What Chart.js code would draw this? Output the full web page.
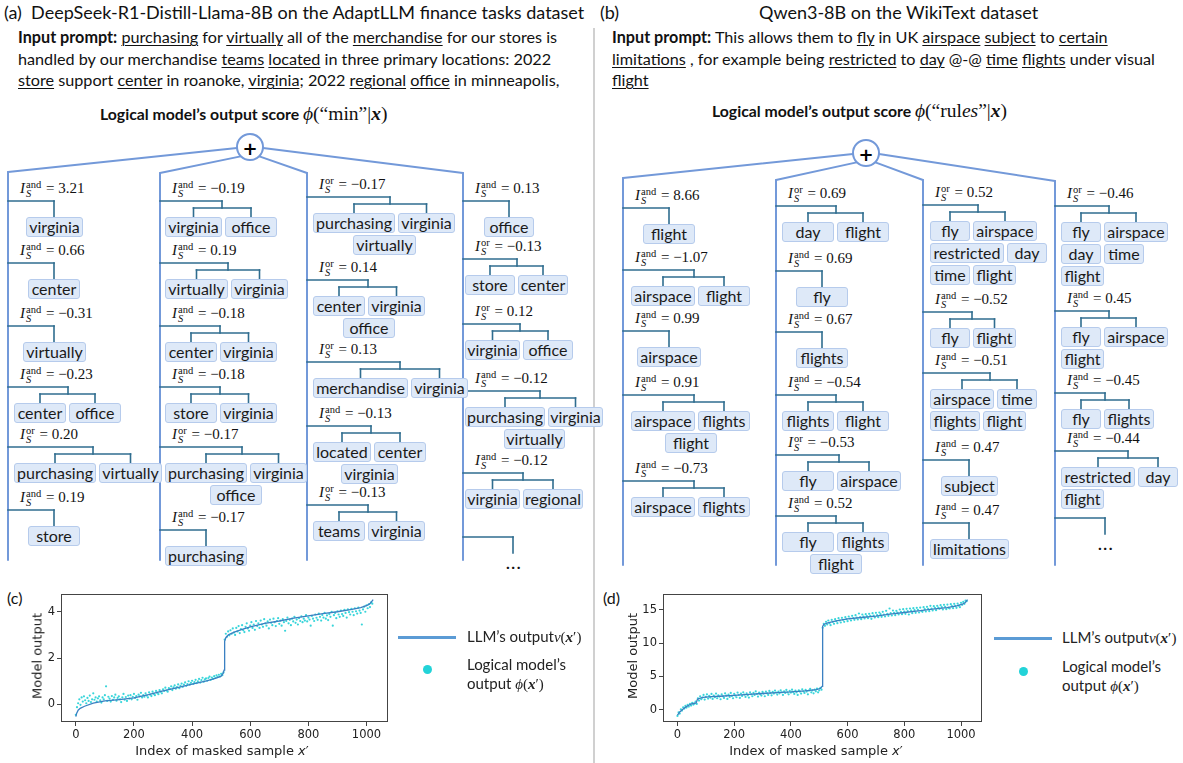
<!DOCTYPE html>
<html><head><meta charset="utf-8">
<script src="https://cdn.jsdelivr.net/npm/chart.js@4.4.1/dist/chart.umd.min.js"></script>
<style>
html,body{margin:0;padding:0;background:#fff;}
#fig{position:relative;width:1183px;height:763px;overflow:hidden;font-family:Lato,'Open Sans',sans-serif;color:#111;}
.abs{position:absolute;white-space:nowrap;}
.title{font-size:18px;line-height:22px;top:1px;}
.prompt{font-size:16.2px;line-height:21.5px;top:26px;}
.prompt u{text-decoration-thickness:1.4px;text-underline-offset:2px;}
.score{font-weight:bold;font-size:15.8px;line-height:20px;}
.score .m{font-size:19.5px;}
.m{font-family:'Liberation Serif','DejaVu Serif',serif;font-weight:normal;}
.m b{font-weight:bold;}
.box{position:absolute;height:20px;line-height:18px;box-sizing:border-box;border:1px solid #b6cbec;background:#dee9f8;border-radius:3px;text-align:center;font-size:16px;color:#1a1a1a;padding:0 1px;white-space:nowrap;}
.lab{position:absolute;font-family:'Liberation Serif','DejaVu Serif',serif;font-size:15px;line-height:18px;white-space:nowrap;color:#111;}
.scr{display:inline-block;vertical-align:-4px;line-height:9px;font-size:10.5px;margin-left:1px;margin-right:1px;}
.scr span{display:block;}
.scr .s{font-style:italic;}
.dots{position:absolute;font-size:16px;font-weight:bold;letter-spacing:1.5px;transform:translateX(-50%);}
svg line.main{stroke:#7399d9;stroke-width:2;stroke-linecap:round;}
svg line.br{stroke:#2f6d8f;stroke-width:1.6;stroke-linecap:square;}
.axt{position:absolute;font-family:'DejaVu Sans',sans-serif;font-size:13px;white-space:nowrap;color:#222;transform:translate(-50%,-50%);}
.axt.rot{transform:translate(-50%,-50%) rotate(-90deg);}
.leg{position:absolute;font-size:15px;line-height:19px;white-space:nowrap;color:#222;}
.legline{position:absolute;height:2.5px;background:#5b9bd5;}
.legdot{position:absolute;width:9px;height:9px;border-radius:50%;background:#22d3d8;}
.plab{position:absolute;font-size:16px;line-height:20px;}
canvas{position:absolute;}
</style></head>
<body>
<div id="fig">
  <svg id="links" width="1183" height="763" style="position:absolute;left:0;top:0"></svg>
  <div style="position:absolute;left:593px;top:28px;width:2px;height:735px;background:#d0d0d0"></div>

  <div class="abs title" style="left:4px">(a)&nbsp; DeepSeek-R1-Distill-Llama-8B on the AdaptLLM finance tasks dataset</div>
  <div class="abs prompt" style="left:18px">
    <div><b>Input prompt:</b> <u>purchasing</u> for <u>virtually</u> all of the <u>merchandise</u> for our stores is</div>
    <div>handled by our merchandise <u>teams</u> <u>located</u> in three primary locations: 2022</div>
    <div><u>store</u> support <u>center</u> in roanoke, <u>virginia</u>; 2022 <u>regional</u> <u>office</u> in minneapolis,</div>
  </div>
  <div class="abs score" style="left:100px;top:104px">Logical model’s output score <span class="m"><i>ϕ</i>(“min”|<b><i>x</i></b>)</span></div>

  <div class="abs title" style="left:600px">(b)</div>
  <div class="abs title" style="left:759px">Qwen3-8B on the WikiText dataset</div>
  <div class="abs prompt" style="left:612px">
    <div><b>Input prompt:</b> This allows them to <u>fly</u> in UK <u>airspace</u> <u>subject</u> to <u>certain</u></div>
    <div><u>limitations</u> , for example being <u>restricted</u> to <u>day</u> @-@ <u>time</u> <u>flights</u> under visual</div>
    <div><u>flight</u></div>
  </div>
  <div class="abs score" style="left:712px;top:101px">Logical model’s output score <span class="m"><i>ϕ</i>(“rul<i>es</i>”|<b><i>x</i></b>)</span></div>

  <div class="plab" style="left:7px;top:588px">(c)</div>
  <div class="plab" style="left:603px;top:588px">(d)</div>
  <canvas id="plotC" width="392" height="178" style="left:0;top:585px"></canvas>
  <canvas id="plotD" width="384" height="178" style="left:602px;top:585px"></canvas>
  <div class="axt rot" style="left:37px;top:656px">Model output</div>
  <div class="axt" style="left:222px;top:750px">Index of masked sample <i>x</i>′</div>
  <div class="axt rot" style="left:632px;top:656px">Model output</div>
  <div class="axt" style="left:816px;top:750px">Index of masked sample <i>x</i>′</div>

  <div class="legline" style="left:398px;top:636px;width:58px"></div>
  <div class="leg" style="left:467px;top:627px">LLM’s output<span class="m"><i>v</i>(<b><i>x</i></b>′)</span></div>
  <div class="legdot" style="left:423px;top:665px"></div>
  <div class="leg" style="left:467px;top:655px">Logical model’s<br>output <span class="m"><i>ϕ</i>(<b><i>x</i></b>′)</span></div>

  <div class="legline" style="left:994px;top:637px;width:58px"></div>
  <div class="leg" style="left:1062px;top:628px">LLM’s output<span class="m"><i>v</i>(<b><i>x</i></b>′)</span></div>
  <div class="legdot" style="left:1019px;top:667px"></div>
  <div class="leg" style="left:1062px;top:657px">Logical model’s<br>output <span class="m"><i>ϕ</i>(<b><i>x</i></b>′)</span></div>
</div>

<script>
// ---------- interaction trees: [type, I_S value, words in S] ----------
const treeA1 = [['and',3.21,['virginia']],['and',0.66,['center']],['and',-0.31,['virtually']],
  ['and',-0.23,['center','office']],['or',0.20,['purchasing','virtually']],['and',0.19,['store']]];
const treeA2 = [['and',-0.19,['virginia','office']],['and',0.19,['virtually','virginia']],
  ['and',-0.18,['center','virginia']],['and',-0.18,['store','virginia']],
  ['or',-0.17,['purchasing','virginia','office']],['and',-0.17,['purchasing']]];
const treeA3 = [['or',-0.17,['purchasing','virginia','virtually']],['or',0.14,['center','virginia','office']],
  ['or',0.13,['merchandise','virginia']],['and',-0.13,['located','center','virginia']],
  ['or',-0.13,['teams','virginia']]];
const treeA4 = [['and',0.13,['office']],['or',-0.13,['store','center']],['or',0.12,['virginia','office']],
  ['and',-0.12,['purchasing','virginia','virtually']],['and',-0.12,['virginia','regional']]];

const treeB1 = [['and',8.66,['flight']],['and',-1.07,['airspace','flight']],['and',0.99,['airspace']],
  ['and',0.91,['airspace','flights','flight']],['and',-0.73,['airspace','flights']]];
const treeB2 = [['or',0.69,['day','flight']],['and',0.69,['fly']],['and',0.67,['flights']],
  ['and',-0.54,['flights','flight']],['or',-0.53,['fly','airspace']],['and',0.52,['fly','flights','flight']]];
const treeB3 = [['or',0.52,['fly','airspace','restricted','day','time','flight']],['and',-0.52,['fly','flight']],
  ['and',-0.51,['airspace','time','flights','flight']],['and',0.47,['subject']],['and',0.47,['limitations']]];
const treeB4 = [['or',-0.46,['fly','airspace','day','time','flight']],['and',0.45,['fly','airspace','flight']],
  ['and',-0.45,['fly','flights']],['and',-0.44,['restricted','day','flight']]];

// ---------- tree placement ----------
const layoutA = {circle:[250,147], mainX:[8,160,307,463], topY:[172,173,173,173], bottom:560,
  labelY:[[188,250,313,374,434,497],[188,250,313,374,434,517],[184,267,349,413,492],[188,246,311,378,460]],
  tailY:[null,null,null,537], align:['c','c','c','c'], minW:[52,52,52,50], rowStart:[6,5,6,2], pad:[2,2,2,0]};
const layoutB = {circle:[866,153], mainX:[623,776,923,1055], topY:[178,180,180,181], bottom:565,
  labelY:[[195,257,318,382,468],[193,258,319,382,442,503],[192,299,360,447,510],[193,298,380,438]],
  tailY:[null,null,null,518], align:['c','c','l','l'], minW:[52,52,40,40], rowStart:[8,6,7,6], pad:[2,2,2,2]};

// ---------- plot data ----------
const xTicks = [0,200,400,600,800,1000];
const yTicksC = [0,2,4];
const yTicksD = [0,5,10,15];
const maskedIdx = Array.from({length:256},(_,i)=>i*4);   // sample indices of the plotted dots

const lineIdxC = [0,3,8,15,30,60,100,150,200,250,300,350,400,450,480,500,507,510,512,516,525,545,575,600,650,700,750,800,850,900,950,980,1000,1012,1023];
const lineValC = [-0.53,-0.38,-0.25,-0.17,-0.08,0.05,0.15,0.21,0.28,0.42,0.58,0.72,0.87,1.02,1.12,1.22,1.35,1.48,2.72,2.88,3.0,3.12,3.25,3.35,3.5,3.6,3.72,3.82,3.92,4.0,4.1,4.18,4.26,4.35,4.52];
const dotValC = [
 -0.45,-0.12,0.05,0.22,-0.02,0.3,0.12,0.35,0.18,0.05, 0.28,0.15,0.38,0.1,0.22,0.48,0.2,0.3,0.12,0.26,
 0.35,0.18,0.08,0.3,0.22,0.4,0.78,0.15,0.33,0.25, 0.12,0.36,0.2,0.3,0.42,0.16,0.28,0.35,0.22,0.1,
 0.3,0.45,0.2,0.32,0.15,0.38,0.25,0.4,0.22,0.33, 0.45,0.28,0.36,0.2,0.42,0.35,0.5,0.3,0.4,0.33,
 0.48,0.38,0.3,0.52,0.42,0.36,0.55,0.45,0.4,0.58, 0.5,0.44,0.62,0.55,0.48,0.65,0.58,0.72,0.6,0.55,
 0.7,0.66,0.78,0.62,0.74,0.82,0.68,0.75,0.86,0.7, 0.8,0.9,0.76,0.85,0.95,0.8,0.88,1.0,0.85,0.93,
 1.02,0.88,0.96,1.06,0.92,1.0,1.1,0.94,1.05,1.15, 0.98,1.08,1.12,1.02,1.14,1.2,1.06,1.16,1.1,1.22,
 1.14,1.25,1.18,1.28,1.2,1.32,1.26,1.38,
 2.8,3.05,2.92,3.15,2.98,3.2,3.05,3.28,3.1,3.0, 3.3,3.15,3.38,3.08,3.25,3.42,3.2,3.12,3.35,3.5,
 3.28,3.18,3.4,3.55,3.3,3.45,3.22,3.6,3.38,3.5, 3.3,3.62,3.45,3.35,3.68,3.5,3.4,3.58,3.28,3.66,
 3.52,3.42,3.7,3.55,3.38,3.6,3.72,3.48,3.62,3.4, 3.68,3.55,3.18,3.6,3.75,3.5,3.65,3.42,3.7,3.58,
 3.78,3.52,3.66,3.45,3.72,3.6,3.8,3.55,3.7,3.62, 3.85,3.58,3.75,3.66,3.4,3.82,3.7,3.6,3.88,3.74,
 3.65,3.92,3.78,3.62,3.86,3.75,3.95,3.7,3.84,3.64, 3.9,3.78,4.0,3.4,3.85,3.95,3.72,4.02,3.88,3.78,
 4.05,3.9,3.82,4.08,3.95,3.75,4.1,3.98,3.88,4.12, 4.0,3.85,4.15,4.02,3.92,4.18,4.05,3.95,3.45,4.1,
 4.22,4.0,4.28,4.15,4.32,4.2,4.4,4.35];

const lineIdxD = [0,4,8,12,20,30,40,50,60,66,70,75,90,120,150,200,250,300,350,400,450,490,505,510,512,516,530,560,600,650,700,750,800,850,900,950,985,1005,1015,1023];
const lineValD = [-0.85,-0.6,-0.35,-0.2,0.1,0.4,0.65,0.85,0.95,1.0,1.5,1.65,1.82,1.95,2.0,2.12,2.28,2.42,2.55,2.65,2.8,3.0,3.2,3.5,12.5,12.8,13.05,13.35,13.65,13.85,14.05,14.35,14.6,14.85,15.1,15.35,15.6,15.85,16.1,16.55];
const dotValD = [
 -0.95,-0.4,-0.6,0.05,-0.15,0.35,0.15,0.55,0.3,0.7, 0.45,0.85,0.6,1.0,0.75,0.9,1.2,0.85,1.7,1.35,
 2.0,1.55,1.8,2.2,1.5,1.9,2.3,1.65,2.05,1.8, 2.35,1.6,2.1,1.85,2.4,1.7,2.15,1.95,1.55,2.3,
 2.0,1.75,2.45,2.1,1.6,2.25,1.9,2.5,2.05,1.7, 2.35,2.1,1.85,2.55,2.2,1.75,2.4,2.05,2.6,2.25,
 1.9,2.45,2.15,1.8,2.6,2.3,2.0,2.5,2.2,2.75, 2.35,1.95,2.55,2.3,2.1,2.65,2.4,2.0,2.7,2.45,
 2.2,2.8,2.5,2.15,2.65,2.4,2.85,2.55,2.25,2.7, 2.45,2.9,2.6,2.2,2.75,2.5,2.95,2.6,2.3,2.8,
 2.55,3.0,2.65,2.35,2.85,2.6,2.2,2.9,2.7,2.4, 3.05,2.75,2.5,2.95,2.7,2.3,2.85,3.1,2.6,2.9,
 2.45,3.0,2.75,3.15,2.6,2.9,3.25,3.0,
 12.3,12.9,12.6,13.2,12.8,13.4,13.0,12.7,13.5,13.2, 12.9,13.6,13.3,13.0,13.75,13.4,13.1,13.8,13.5,13.2,
 13.9,13.6,13.3,14.0,13.7,13.4,14.1,13.75,13.5,14.2, 13.85,13.55,14.45,13.9,13.6,14.3,14.0,13.7,14.35,14.05,
 13.75,14.4,14.1,13.65,14.5,14.15,13.85,14.55,14.2,13.9, 14.6,14.35,13.95,14.7,14.3,14.0,14.85,14.4,14.1,15.2,
 14.5,14.15,14.9,14.55,14.2,14.85,14.6,14.3,15.05,14.7, 14.35,15.1,14.75,14.4,15.15,14.8,14.3,15.2,14.9,14.5,
 15.25,14.95,14.55,15.3,15.0,14.6,15.35,14.85,14.7,15.4, 15.1,14.75,15.45,15.15,14.8,15.6,15.2,14.9,15.55,15.3,
 14.95,15.6,15.35,15.15,15.7,15.4,15.05,15.75,15.45,15.1, 15.8,15.3,15.2,15.85,15.55,15.25,15.9,15.6,15.3,15.95,
 15.65,15.4,16.05,15.75,16.2,15.9,16.4,16.3];

// ---------- tree drawing ----------
const fig = document.getElementById('fig');
const svg = document.getElementById('links');
const NS = 'http://www.w3.org/2000/svg';
function seg(x1,y1,x2,y2,cls){
  const l = document.createElementNS(NS,'line');
  l.setAttribute('x1',x1); l.setAttribute('y1',y1); l.setAttribute('x2',x2); l.setAttribute('y2',y2);
  l.setAttribute('class',cls); svg.appendChild(l);
}
function fmt(v){ return (v<0?'\u2212':'') + Math.abs(v).toFixed(2); }
function makeBox(word, minW, pad){
  const b = document.createElement('div'); b.className='box'; b.textContent=word;
  fig.appendChild(b);
  const w = Math.max(minW, Math.ceil(b.getBoundingClientRect().width) + pad);
  b.style.width = w+'px';
  return {el:b, w};
}
function place(b,x,y){ b.el.style.left = x+'px'; b.el.style.top = y+'px'; }
function addLabel(x,yc,op,v){
  const d = document.createElement('div'); d.className='lab';
  d.innerHTML = '<i>I</i><span class="scr"><span>'+op+'</span><span class="s">S</span></span> = '+fmt(v);
  d.style.left = x+'px'; d.style.top = (yc-9)+'px';
  fig.appendChild(d);
}
function drawTree(cols, lay){
  const [cx,cy] = lay.circle, r = 13;
  const starts = [[cx-r,cy+1],[cx-r*0.72,cy+r*0.72],[cx+r*0.72,cy+r*0.72],[cx+r,cy+1]];
  cols.forEach((items,ci)=>{
    const mx = lay.mainX[ci], minW = lay.minW[ci], pad = lay.pad[ci], x0 = mx + lay.rowStart[ci];
    seg(starts[ci][0],starts[ci][1],mx,lay.topY[ci],'main');
    seg(mx,lay.topY[ci],mx,lay.bottom,'main');
    items.forEach((it,k)=>{
      const L = lay.labelY[ci][k];
      addLabel(mx+12,L,it[0],it[1]);
      const words = it[2];
      if(words.length===1){
        const b = makeBox(words[0],minW,pad);
        const c = mx+46;
        place(b, Math.round(c-b.w/2), L+29);
        seg(mx,L+13,c,L+13,'br'); seg(c,L+13,c,L+29,'br');
      } else {
        const rows = [];
        for(let i=0;i<words.length;i+=2) rows.push(words.slice(i,i+2));
        let c1=0,c2=0,spanR=0;
        rows.forEach((row,ri)=>{
          const bs = row.map(w=>makeBox(w,minW,pad));
          const total = bs.reduce((s,b)=>s+b.w,0) + 3*(bs.length-1);
          let x = (ri===0 || lay.align[ci]==='l') ? x0 : Math.round((x0+spanR)/2 - total/2);
          bs.forEach((b,bi)=>{
            place(b,x,L+29+22*ri);
            if(ri===0){ if(bi===0) c1 = x+b.w/2; c2 = x+b.w/2; }
            x += b.w+3;
          });
          if(ri===0) spanR = x-3;
        });
        const mid = Math.round((c1+c2)/2);
        seg(mx,L+13,mid,L+13,'br'); seg(mid,L+13,mid,L+20,'br');
        seg(c1,L+20,c2,L+20,'br'); seg(c1,L+20,c1,L+29,'br'); seg(c2,L+20,c2,L+29,'br');
      }
    });
    const t = lay.tailY[ci];
    if(t!==null){
      seg(mx,t,mx+50,t,'br'); seg(mx+50,t,mx+50,t+16,'br');
      const d = document.createElement('div'); d.className='dots'; d.textContent='...';
      d.style.left = (mx+51)+'px'; d.style.top = (t+16)+'px'; fig.appendChild(d);
    }
  });
  const c = document.createElementNS(NS,'circle');
  c.setAttribute('cx',cx); c.setAttribute('cy',cy); c.setAttribute('r',r);
  c.setAttribute('fill','#fff'); c.setAttribute('stroke','#7399d9'); c.setAttribute('stroke-width','2');
  svg.appendChild(c);
  const p = document.createElementNS(NS,'text');
  p.setAttribute('x',cx); p.setAttribute('y',cy+1); p.setAttribute('text-anchor','middle');
  p.setAttribute('dominant-baseline','central'); p.setAttribute('font-family','DejaVu Sans');
  p.setAttribute('font-weight','bold'); p.setAttribute('font-size','18'); p.textContent='+';
  svg.appendChild(p);
}
drawTree([treeA1,treeA2,treeA3,treeA4], layoutA);
drawTree([treeB1,treeB2,treeB3,treeB4], layoutB);

// ---------- plots ----------
const framePlugin = {
  id:'frame',
  afterDraw(chart){
    const {ctx, chartArea:a} = chart;
    ctx.save(); ctx.strokeStyle='#444'; ctx.lineWidth=1;
    ctx.strokeRect(Math.round(a.left)+0.5, Math.round(a.top)+0.5, Math.round(a.right-a.left)-1, Math.round(a.bottom-a.top)-1);
    ctx.restore();
  }
};
function axisStyle(){
  return {
    grid:{display:true, drawOnChartArea:false, drawTicks:true, tickLength:4, color:'#444', tickColor:'#444'},
    border:{display:false},
    ticks:{font:{family:'DejaVu Sans', size:11.5}, color:'#222', padding:2, maxRotation:0, autoSkip:false,
           callback:v=>String(v)}
  };
}
function makePlot(id, lineIdx, lineVal, dots, yMin, yMax, yTicks){
  const xs = axisStyle(), ys = axisStyle();
  new Chart(document.getElementById(id), {
    type:'scatter',
    data:{datasets:[
      {label:'LLM output', data:lineIdx.map((x,i)=>({x, y:lineVal[i]})), showLine:true,
       borderColor:'#3b80c2', borderWidth:1.3, pointRadius:0, tension:0, order:0},
      {label:'Logical model output', data:maskedIdx.map((x,i)=>({x, y:dots[i]})),
       pointRadius:1.1, pointBackgroundColor:'rgba(34,208,214,0.9)', pointBorderWidth:0, order:1}
    ]},
    options:{
      responsive:false, animation:false, events:[],
      layout:{padding:{left:0, top:6, right:4, bottom:0}},
      plugins:{legend:{display:false}, tooltip:{enabled:false}},
      scales:{
        x:Object.assign(xs, {type:'linear', min:-51, max:1074,
          afterBuildTicks:s=>{ s.ticks = xTicks.map(v=>({value:v})); },
          afterFit:s=>{ s.height = 41; }}),
        y:Object.assign(ys, {type:'linear', min:yMin, max:yMax,
          afterBuildTicks:s=>{ s.ticks = yTicks.map(v=>({value:v})); },
          afterFit:s=>{ s.width = 61; }})
      }
    },
    plugins:[framePlugin]
  });
}
makePlot('plotC', lineIdxC, lineValC, dotValC, -0.76, 4.77, yTicksC);
makePlot('plotD', lineIdxD, lineValD, dotValD, -1.87, 17.4, yTicksD);
</script>
</body></html>
